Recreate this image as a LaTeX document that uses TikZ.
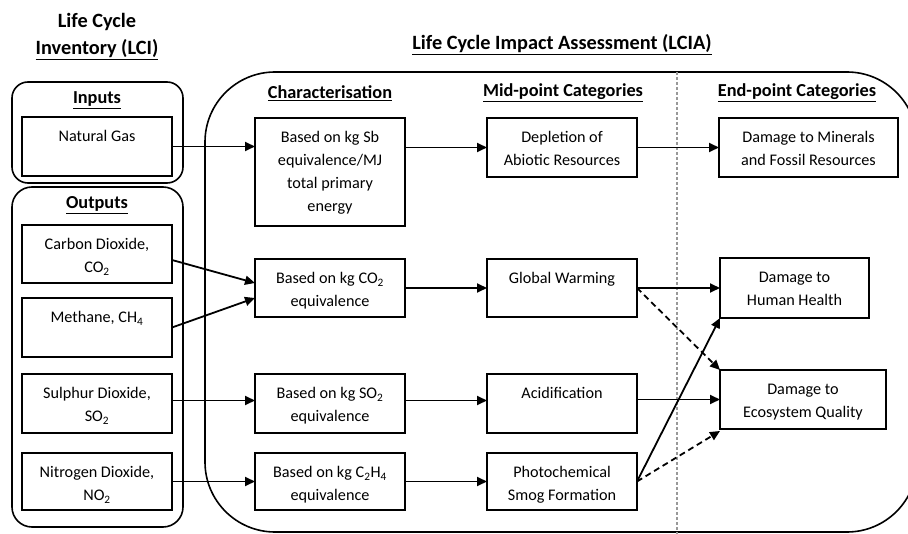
\documentclass[tikz,border=0pt]{standalone}
\usepackage{fontspec}
\setmainfont{Carlito}
\usetikzlibrary{arrows.meta,calc}
\tikzset{
  bx/.style={draw, line width=1.8pt, inner sep=0pt, outer sep=0pt},
  txt/.style={inner sep=0pt, align=center, font=\fontsize{16.2}{23}\selectfont},
  hd/.style={inner sep=0pt, align=center, font=\bfseries\fontsize{18.3}{28}\selectfont},
  ttl/.style={inner sep=0pt, align=center, font=\bfseries\fontsize{20.3}{28}\selectfont},
  arr/.style={line width=1.8pt, -{Triangle[length=10pt,width=9pt]}},
  darr/.style={line width=1.8pt, dash pattern=on 6pt off 4pt, -{Triangle[length=10pt,width=9pt]}},
  cont/.style={draw, line width=1.6pt},
  vdash/.style={line width=1.8pt, gray!80, dash pattern=on 3pt off 2pt}
}
\newcommand\mybox[6]{%
  \node[bx, minimum width={#4-#2}, minimum height={#5-#3}] (#1) at ({(#2+#4)/2},{(#3+#5)/2}) {};
  \node[txt, anchor=north] (#1-t) at ([yshift=-13.5pt]#1.north) {#6};}
\begin{document}
\begin{tikzpicture}[x=1pt,y=-1pt]
\useasboundingbox (0,0) rectangle (908,534);
\clip (0,0) rectangle (908,534);
% containers
\draw[cont, rounded corners=16pt] (12,82) rectangle (183,183);
\draw[cont, rounded corners=20pt] (12,187) rectangle (183,527);
\draw[cont, rounded corners=70pt] (205,72) rectangle (917,532);
\draw[vdash] (677,72) -- (677,534);
% headings
\node[ttl] (lci1) at (97,22) {Life Cycle};
\node[ttl] (lci2) at (97,50) {\underline{Inventory (LCI)}};
\node[ttl] (lcia) at (562,45) {\underline{Life Cycle Impact Assessment (LCIA)}};
\node[hd] (hin) at (97,100) {\underline{Inputs}};
\node[hd] (hout) at (97,205) {\underline{Outputs}};
\node[hd] (hchar) at (330,93) {\underline{Characterisation}};
\node[hd] (hmid) at (563,93) {\underline{Mid-point Categories}};
\node[hd] (hend) at (797,93) {\underline{End-point Categories}};
% boxes
\mybox{ng}{22}{117}{172}{176}{Natural Gas}
\mybox{co2in}{22}{225}{172}{283}{Carbon Dioxide,\\CO\textsubscript{2}}
\mybox{ch4}{22}{298}{172}{357}{Methane, CH\textsubscript{4}}
\mybox{so2in}{22}{374}{172}{433}{Sulphur Dioxide,\\SO\textsubscript{2}}
\mybox{no2}{22}{453}{172}{510}{Nitrogen Dioxide,\\NO\textsubscript{2}}
\mybox{sb}{255}{118}{405}{226}{Based on kg Sb\\equivalence/MJ\\total primary\\energy}
\mybox{cco2}{255}{259}{405}{317}{Based on kg CO\textsubscript{2}\\equivalence}
\mybox{cso2}{255}{374}{405}{433}{Based on kg SO\textsubscript{2}\\equivalence}
\mybox{cc2h4}{255}{453}{405}{510}{Based on kg C\textsubscript{2}H\textsubscript{4}\\equivalence}
\mybox{dep}{487}{118}{637}{177}{Depletion of\\Abiotic Resources}
\mybox{gw}{487}{259}{637}{317}{Global Warming}
\mybox{acid}{487}{374}{637}{433}{Acidification}
\mybox{photo}{487}{453}{637}{510}{Photochemical\\Smog Formation}
\mybox{min}{719}{118}{898}{177}{Damage to Minerals\\and Fossil Resources}
\mybox{hh}{720}{258}{869}{318}{Damage to\\Human Health}
\mybox{eco}{720}{370}{886}{429}{Damage to\\Ecosystem Quality}
% connectors
\draw[arr] (ng.east) -- (ng.east -| sb.west);
\draw[arr] (dep.west -| sb.east) -- (dep.west);
\draw[arr] (dep.east) -- (dep.east -| min.west);
\draw[arr] ([yshift=-6pt]co2in.east) -- ([yshift=5pt]cco2.west);
\draw[arr] (ch4.east) -- ([yshift=-10pt]cco2.west);
\draw[arr] (cco2.east) -- (cco2.east -| gw.west);
\draw[arr] ([yshift=3pt]so2in.east) -- ([yshift=3pt]cso2.west);
\draw[arr] ([yshift=3pt]cso2.east) -- ([yshift=3pt]acid.west);
\draw[arr] (no2.east) -- (cc2h4.west);
\draw[arr] (cc2h4.east) -- (photo.west);
\draw[arr] (gw.east) -- (gw.east -| hh.west);
\draw[darr] (gw.east) -- (eco.north west);
\draw[arr] (eco.west -| acid.east) -- (eco.west);
\draw[arr] (photo.east) -- (hh.south west);
\draw[darr] (photo.east) -- ([yshift=-2pt]eco.south west);
\end{tikzpicture}
\end{document}
